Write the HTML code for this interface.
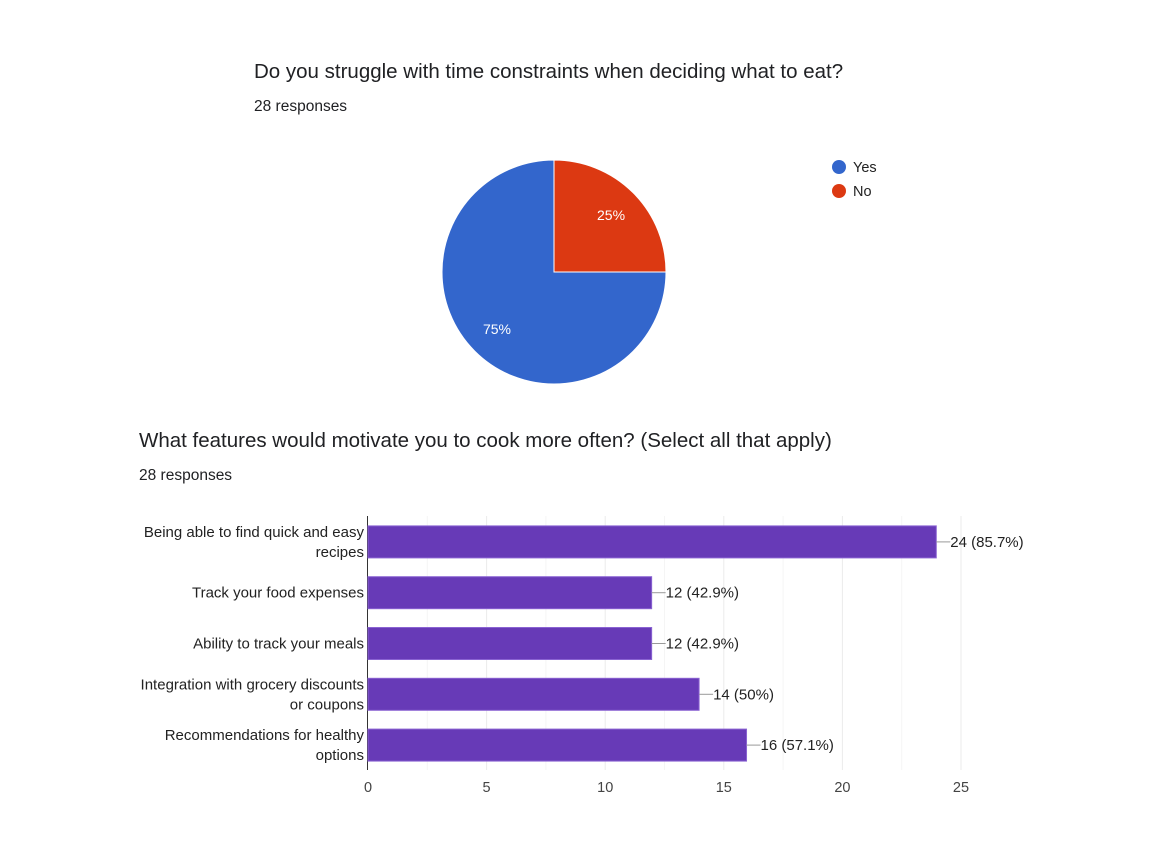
<!DOCTYPE html>
<html><head><meta charset="utf-8"><style>
body{margin:0;background:#fff;font-family:"Liberation Sans",Arial,sans-serif}
.t{position:absolute;color:#202124;white-space:nowrap}
</style></head><body>
<div style="position:relative;width:1175px;height:848px;overflow:hidden">
<div class="t" style="left:254px;top:60px;font-size:20.5px">Do you struggle with time constraints when deciding what to eat?</div>
<div class="t" style="left:254px;top:98px;font-size:15.5px">28 responses</div>
<div class="t" style="left:139px;top:429px;font-size:20.5px">What features would motivate you to cook more often? (Select all that apply)</div>
<div class="t" style="left:139px;top:467px;font-size:15.5px">28 responses</div>
<svg id="s" width="1175" height="848" style="position:absolute;left:0;top:0" font-family="Liberation Sans, Arial, sans-serif"></svg>
</div>
<script>
const pieLabels=["Yes","No"];
const pieValues=[21,7];
const pieColors=["#3366cc","#dc3912"];
const barCats=[["Being able to find quick and easy","recipes"],["Track your food expenses"],["Ability to track your meals"],["Integration with grocery discounts","or coupons"],["Recommendations for healthy","options"]];
const barValues=[24,12,12,14,16];
const barPct=["85.7%","42.9%","42.9%","50%","57.1%"];
const xTicks=[0,5,10,15,20,25];
const NS="http://www.w3.org/2000/svg",svgEl=document.getElementById('s');
function mk(t,a){const e=document.createElementNS(NS,t);for(const k in a)e.setAttribute(k,a[k]);svgEl.appendChild(e);return e;}
(function(){
const cx=554,cy=272,r=112,tot=pieValues.reduce((a,b)=>a+b,0);
let cur=-Math.PI/2;
for(let i=pieValues.length-1;i>=0;i--){
 const v=pieValues[i];
 const b0=cur,b1=cur+v/tot*2*Math.PI;cur=b1;
 const x0=cx+r*Math.cos(b0),y0=cy+r*Math.sin(b0),x1=cx+r*Math.cos(b1),y1=cy+r*Math.sin(b1);
 const p=mk('path',{d:`M${cx},${cy}L${x0},${y0}A${r},${r} 0 ${b1-b0>Math.PI?1:0} 1 ${x1},${y1}Z`,fill:pieColors[i],stroke:'#fff','stroke-width':1});
 
 
 const m=(b0+b1)/2,lr=r*0.72;
 const t=mk('text',{x:cx+lr*Math.cos(m),y:cy+lr*Math.sin(m)+5,fill:'#fff','font-size':14,'text-anchor':'middle'});
 t.textContent=Math.round(v/tot*100)+'%';
 
 
}
pieLabels.forEach((lab,i)=>{
 const c=mk('circle',{cx:839,cy:167+i*24,r:7,fill:pieColors[i]});
 
 
 const lt=mk('text',{x:853,y:172+i*24,fill:'#222','font-size':14.5});
 lt.textContent=lab;
 
 
});
const X0=368,X1=961,yTop=516,yBot=770,xmax=25;
const xs=v=>X0+v/xmax*(X1-X0);
for(let g=2.5;g<=25;g+=2.5){const l=mk('line',{x1:xs(g),x2:xs(g),y1:yTop,y2:yBot,stroke:g%5==0?'#ebebeb':'#f5f5f5'});
 
 }
const ax=mk('line',{x1:X0-0.5,x2:X0-0.5,y1:yTop,y2:yBot,stroke:'#333'});


xTicks.forEach(v=>{const t=mk('text',{x:xs(v),y:792,fill:'#444','font-size':14.5,'text-anchor':'middle'});t.textContent=v;
 
 });
const band=(yBot-yTop)/barValues.length;
barValues.forEach((v,i)=>{
 const yc=yTop+band*(i+0.5)+0.5;
 const w=xs(v)-X0-1;
 const b=mk('rect',{x:X0,y:yc-16,width:w,height:32,fill:'#673ab7',stroke:'#8a63d2','stroke-width':1});
 
 
 const e=X0+w;
 const l=mk('line',{x1:e,x2:e+14,y1:yc,y2:yc,stroke:'#999'});
 
 
 const t=mk('text',{x:e+14,y:yc+5,fill:'#222','font-size':15});
 t.textContent=v+' ('+barPct[i]+')';
 
 
 const lines=barCats[i];
 lines.forEach((ln,j)=>{const c=mk('text',{x:364,y:yc+5+(j-(lines.length-1)/2)*20,fill:'#222','font-size':15,'text-anchor':'end'});c.textContent=ln;
  
  });
});
})();
</script>
</body></html>
